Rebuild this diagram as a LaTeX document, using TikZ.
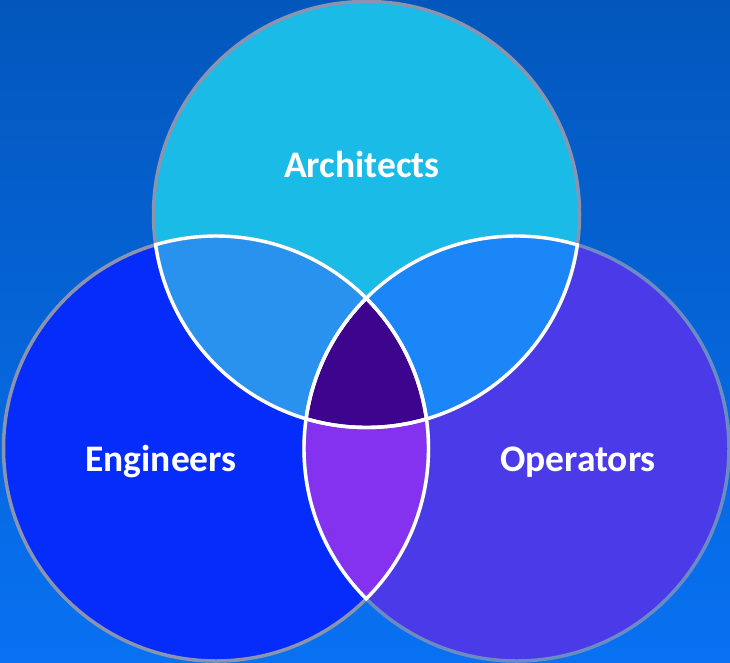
\documentclass[tikz,border=0pt]{standalone}
\usepackage{fontspec}
\setmainfont{Carlito}
\definecolor{bgtop}{HTML}{0357BC}
\definecolor{bgbot}{HTML}{0871F2}
\definecolor{ctop}{HTML}{1ABBE6}
\definecolor{cleft}{HTML}{052CFB}
\definecolor{cright}{HTML}{4B3AE8}
\definecolor{ovtl}{HTML}{2892EE}
\definecolor{ovtr}{HTML}{1A86F8}
\definecolor{ovall}{HTML}{3D058E}
\definecolor{ovbot}{HTML}{8432F0}
\definecolor{rimg}{HTML}{8A94AE}
\definecolor{rimb}{HTML}{6C8AC4}
\tikzset{
  lbl/.style={text=white,font=\bfseries\fontsize{37.5}{40}\selectfont,inner sep=0pt,anchor=base},
  rimw/.style={draw=white,line width=3.4pt},
}
\newcommand{\topc}{(366.5,214.5) circle (213)}
\newcommand{\leftc}{(216,448.5) circle (212.5)}
\newcommand{\rightc}{(516.5,448.5) circle (212.5)}
\newcommand{\topx}{(366.5,214.5) circle (214.5)}
\newcommand{\leftx}{(216,448.5) circle (214)}
\newcommand{\rightx}{(516.5,448.5) circle (214)}
\begin{document}
\begin{tikzpicture}[x=1pt,y=-1pt]
\useasboundingbox (0,0) rectangle (730,662);
\fill[top color=bgtop,bottom color=bgbot,shading angle=0] (0,0) rectangle (730,662);
% base discs
\fill[cleft] \leftc;
\fill[cright] \rightc;
\fill[ctop] \topc;
% overlaps
\begin{scope}\clip \leftc; \fill[ovbot] \rightc; \end{scope}
\begin{scope}\clip \topc; \fill[ovtl] \leftc; \end{scope}
\begin{scope}\clip \topc; \fill[ovtr] \rightc; \end{scope}
\begin{scope}\clip \topc; \clip \leftc; \fill[ovall] \rightc; \end{scope}
% outer rims
\draw[rimg,line width=3.5pt] \topc;
\draw[rimg,line width=3.5pt] \leftc;
\draw[rimb,line width=3.5pt] \rightc;
% inner white arcs
\begin{scope}\clip \leftx; \draw[rimw] \topc; \end{scope}
\begin{scope}\clip \rightx; \draw[rimw] \topc; \end{scope}
\begin{scope}\clip \topx; \draw[rimw] \leftc; \end{scope}
\begin{scope}\clip \rightx; \draw[rimw] \leftc; \end{scope}
\begin{scope}\clip \topx; \draw[rimw] \rightc; \end{scope}
\begin{scope}\clip \leftx; \draw[rimw] \rightc; \end{scope}
\node[lbl] (architects) at (362,177.5) {Architects};
\node[lbl] (engineers) at (161,471.5) {Engineers};
\node[lbl] (operators) at (578,471.5) {Operators};
\end{tikzpicture}
\end{document}
